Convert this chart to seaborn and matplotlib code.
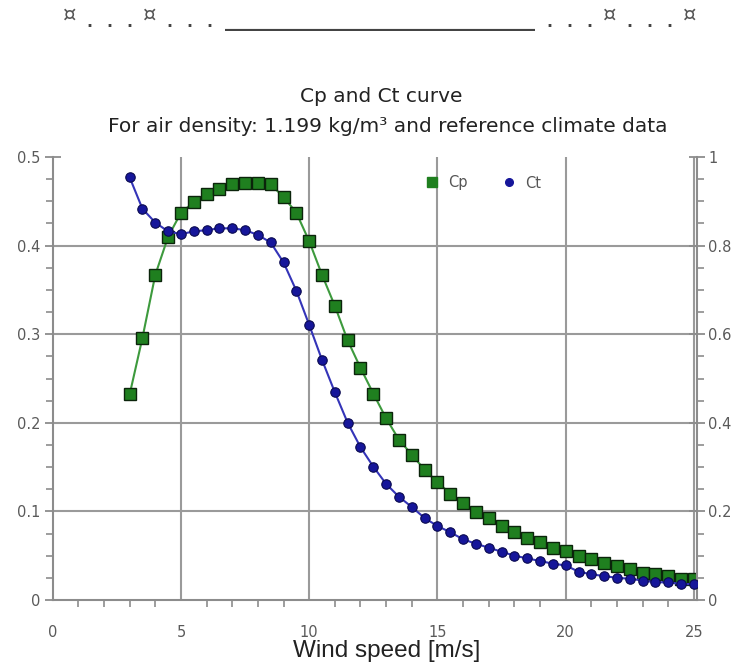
import matplotlib
matplotlib.use("Agg")
import matplotlib.pyplot as plt
from matplotlib.lines import Line2D
from matplotlib.ticker import MultipleLocator
import seaborn as sns
import pandas as pd

# ---- data ----
wind_speed = [3.0, 3.5, 4.0, 4.5, 5.0, 5.5, 6.0, 6.5, 7.0, 7.5, 8.0, 8.5, 9.0, 9.5,
              10.0, 10.5, 11.0, 11.5, 12.0, 12.5, 13.0, 13.5, 14.0, 14.5, 15.0, 15.5,
              16.0, 16.5, 17.0, 17.5, 18.0, 18.5, 19.0, 19.5, 20.0, 20.5, 21.0, 21.5,
              22.0, 22.5, 23.0, 23.5, 24.0, 24.5, 25.0]
cp = [0.232, 0.296, 0.367, 0.410, 0.437, 0.449, 0.458, 0.464, 0.469, 0.471, 0.471,
      0.469, 0.455, 0.437, 0.405, 0.367, 0.332, 0.293, 0.262, 0.233, 0.205, 0.181,
      0.164, 0.147, 0.133, 0.120, 0.109, 0.099, 0.092, 0.084, 0.077, 0.070, 0.065,
      0.059, 0.055, 0.050, 0.046, 0.042, 0.038, 0.035, 0.031, 0.029, 0.027, 0.024,
      0.024]
ct = [0.954, 0.883, 0.852, 0.832, 0.826, 0.832, 0.835, 0.839, 0.839, 0.835, 0.824,
      0.807, 0.762, 0.698, 0.621, 0.542, 0.469, 0.400, 0.345, 0.301, 0.262, 0.233,
      0.210, 0.185, 0.167, 0.153, 0.137, 0.127, 0.118, 0.109, 0.100, 0.094, 0.088,
      0.082, 0.078, 0.064, 0.058, 0.054, 0.050, 0.048, 0.044, 0.040, 0.040, 0.036,
      0.036]
x_ticks = [0, 5, 10, 15, 20, 25]
left_ticks = [0, 0.1, 0.2, 0.3, 0.4, 0.5]
left_labels = ["0", "0.1", "0.2", "0.3", "0.4", "0.5"]
right_ticks = [0, 0.2, 0.4, 0.6, 0.8, 1.0]
right_labels = ["0", "0.2", "0.4", "0.6", "0.8", "1"]
title = "Cp and Ct curve"
subtitle = "For air density: 1.199 kg/m\u00b3 and reference climate data"
xlabel = "Wind speed [m/s]"
header_dots = ". . ."
header_rule = "_" * 31
header_sign = "\u00a4"

df = pd.DataFrame({"ws": wind_speed, "cp": cp, "ct": ct})

sns.set_theme(style="white")
plt.rcParams["font.family"] = ["DejaVu Sans"]

W, H = 745, 669
fig = plt.figure(figsize=(W / 100, H / 100), dpi=100)
left_px, right_px, top_px, bot_px = 52.7, 697.0, 157.0, 600.0
ax = fig.add_axes([left_px / W, 1 - bot_px / H, (right_px - left_px) / W, (bot_px - top_px) / H])
ax2 = ax.twinx()

spine_col = "#8c8c8c"
grid_col = "#9a9a9a"
tick_col = "#5a5a5a"
green_face = "#1f7f1f"
green_line = "#3d9a3d"
blue_face = "#16169a"
blue_line = "#3434b8"

sns.lineplot(data=df, x="ws", y="cp", ax=ax, color=green_line, lw=1.5,
             marker="s", markersize=8.5, markerfacecolor=green_face,
             markeredgecolor="#0b240b", markeredgewidth=1.0, zorder=3)
sns.lineplot(data=df, x="ws", y="ct", ax=ax2, color=blue_line, lw=1.5,
             marker="o", markersize=6.8, markerfacecolor=blue_face,
             markeredgecolor="#0a0a50", markeredgewidth=0.8, zorder=3)

ax.set_xlim(0, 25.12)
ax.set_ylim(0, 0.5)
ax2.set_ylim(0, 1.0)

# grid
for xv in [5, 10, 15, 20, 25]:
    ax.axvline(xv, color=grid_col, lw=1.5, zorder=1)
for yv in [0.1, 0.2, 0.3, 0.4]:
    ax.axhline(yv, color=grid_col, lw=1.5, zorder=1)

for a in (ax, ax2):
    a.set_xlabel("")
    a.set_ylabel("")
    a.spines["top"].set_visible(False)
    for s in ("left", "right", "bottom"):
        a.spines[s].set_color(spine_col)
        a.spines[s].set_linewidth(1.5)
    a.set_facecolor("none")

ax.spines["right"].set_visible(False)
ax2.spines["left"].set_visible(False)
ax2.spines["bottom"].set_visible(False)

ax.set_xticks(x_ticks)
ax.set_xticklabels([str(v) for v in x_ticks])
ax.xaxis.set_minor_locator(MultipleLocator(1))
ax.set_yticks(left_ticks)
ax.set_yticklabels(left_labels)
ax.yaxis.set_minor_locator(MultipleLocator(0.025))
ax2.set_yticks(right_ticks)
ax2.set_yticklabels(right_labels)
ax2.yaxis.set_minor_locator(MultipleLocator(0.05))

ax.tick_params(axis="x", which="major", direction="inout", length=12, width=1.3,
               color=spine_col, labelcolor=tick_col, labelsize=10.5, pad=12)
ax.tick_params(axis="x", which="minor", direction="out", length=5, width=1.2,
               color=spine_col, bottom=True)
ax.tick_params(axis="y", which="major", direction="inout", length=12, width=1.3,
               color=spine_col, labelcolor=tick_col, labelsize=10.5, pad=3, left=True)
ax.tick_params(axis="y", which="minor", direction="out", length=5, width=1.2,
               color=spine_col, left=True)
ax2.tick_params(axis="y", which="major", direction="inout", length=12, width=1.3,
                color=spine_col, labelcolor=tick_col, labelsize=10.5, pad=2, right=True)
ax2.tick_params(axis="y", which="minor", direction="out", length=5, width=1.2,
                color=spine_col, right=True)

# legend
handles = [
    Line2D([], [], ls="none", marker="s", markersize=7.5, markerfacecolor=green_face,
           markeredgecolor=green_face, label="Cp"),
    Line2D([], [], ls="none", marker="o", markersize=5.5, markerfacecolor=blue_face,
           markeredgecolor=blue_face, label="Ct"),
]
leg = ax2.legend(handles=handles, ncol=2, frameon=False, loc="center left",
                 bbox_to_anchor=(412 / W, 1 - 183 / H), bbox_transform=fig.transFigure,
                 fontsize=10.5, handlelength=1.0, handletextpad=0.6, columnspacing=2.3)
for t in leg.get_texts():
    t.set_color("#555555")

# titles
fig.text(381 / W, 1 - 97 / H, title, ha="center", va="center", fontsize=14.5, color="#222222")
fig.text(388 / W, 1 - 127 / H, subtitle, ha="center", va="center", fontsize=14.5, color="#222222")
fig.text(387 / W, 1 - 651 / H, xlabel, ha="center", va="center", fontsize=17.5,
         color="#222222", family=["Liberation Sans"])

# header
for xp in [110, 190, 570, 650]:
    fig.text(xp / W, 1 - 27 / H, header_dots, ha="center", va="baseline", fontsize=12,
             family=["DejaVu Sans Mono"], weight="bold", color="#444444")
fig.text(380 / W, 1 - 27 / H, header_rule, ha="center", va="baseline", fontsize=12,
         family=["DejaVu Sans Mono"], weight="bold", color="#444444")
for xp in [70, 150, 610, 690]:
    fig.text(xp / W, 1 - 15 / H, header_sign, ha="center", va="center", fontsize=15,
             color="#555555")

fig.savefig("out.png", dpi=100)
